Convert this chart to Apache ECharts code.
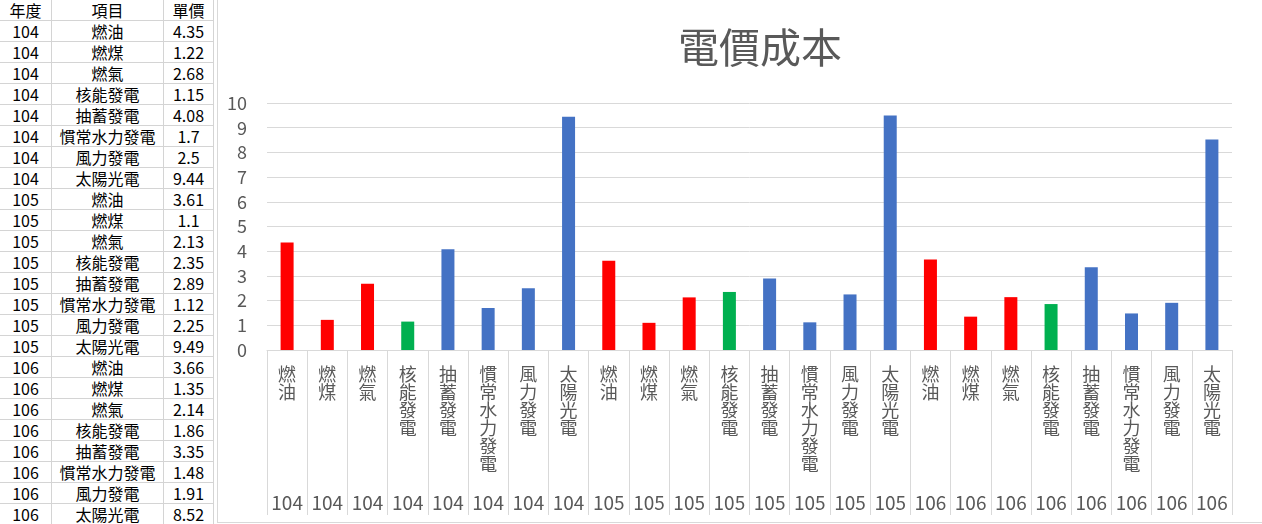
<!DOCTYPE html>
<html>
<head>
<meta charset="utf-8">
<script src="https://cdn.jsdelivr.net/npm/echarts@6/dist/echarts.min.js"></script>
<style>
  html, body { margin:0; padding:0; background:#fff; width:1262px; height:524px; overflow:hidden; }
  #tbl { position:absolute; left:0; top:0; border-collapse:collapse; font-family:"Noto Sans CJK TC","Noto Sans",sans-serif; font-size:16px; color:#000; }
  #tbl td { height:20px; padding:0; border-right:1px solid #D4D4D4; border-bottom:1px solid #D4D4D4; text-align:center; line-height:20px; white-space:nowrap; overflow:hidden; }
  #frame { position:absolute; left:217px; top:-1px; width:1050px; height:523px; border-left:1px solid #D9D9D9; border-bottom:1px solid #D9D9D9; }
  #chart { position:absolute; left:218px; top:0; width:1044px; height:522px; }
</style>
</head>
<body>
<table id="tbl"></table>
<div id="frame"></div>
<div id="chart"></div>
<script>
// ---- data ----
const years = ['104','104','104','104','104','104','104','104',
               '105','105','105','105','105','105','105','105',
               '106','106','106','106','106','106','106','106'];
const itemNames = ['燃油','燃煤','燃氣','核能發電','抽蓄發電','慣常水力發電','風力發電','太陽光電'];
const items = itemNames.concat(itemNames, itemNames);
const values104 = [4.35, 1.22, 2.68, 1.15, 4.08, 1.7, 2.5, 9.44];
const values105 = [3.61, 1.1, 2.13, 2.35, 2.89, 1.12, 2.25, 9.49];
const values106 = [3.66, 1.35, 2.14, 1.86, 3.35, 1.48, 1.91, 8.52];
const values = values104.concat(values105, values106);
const headers = ['年度','項目','單價'];
const yTicks = [0,1,2,3,4,5,6,7,8,9,10];
const titleText = '電價成本';

// ---- table ----
const tbl = document.getElementById('tbl');
const colW = [51, 111, 49];
function addRow(cells) {
  const tr = document.createElement('tr');
  cells.forEach((c, i) => {
    const td = document.createElement('td');
    td.textContent = c;
    td.style.width = colW[i] + 'px';
    td.style.maxWidth = colW[i] + 'px';
    td.style.minWidth = colW[i] + 'px';
    tr.appendChild(td);
  });
  tbl.appendChild(tr);
}
addRow(headers);
items.forEach((it, i) => addRow([years[i], it, String(values[i])]));

// ---- chart ----
const colorOf = name => (name === '燃油' || name === '燃煤' || name === '燃氣') ? '#FF0000'
                      : (name === '核能發電' ? '#00B050' : '#4472C4');
const FONT = '"Noto Sans CJK TC","Noto Sans",sans-serif';
const chart = echarts.init(document.getElementById('chart'), null, { renderer: 'canvas' });
chart.setOption({
  animation: false,
  title: {
    text: titleText, left: 537, top: 22, textAlign: 'center',
    textStyle: { fontSize: 41, fontWeight: 'normal', color: '#595959', fontFamily: FONT }
  },
  grid: { left: 49, top: 103, width: 965, height: 247, containLabel: false },
  xAxis: [
    {
      type: 'category', data: items, position: 'bottom',
      axisLine: { show: true, lineStyle: { color: '#D9D9D9', width: 1 } },
      axisTick: { show: true, interval: 0, length: 165, lineStyle: { color: '#D9D9D9', width: 1 } },
      axisLabel: {
        interval: 0, margin: 15, color: '#595959', fontSize: 18, lineHeight: 18, fontFamily: FONT,
        verticalAlign: 'top',
        formatter: v => v.split('').join('\n')
      },
      splitLine: { show: false }
    },
    {
      type: 'category', data: years, position: 'bottom',
      axisLine: { show: false }, axisTick: { show: false },
      axisLabel: { interval: 0, margin: 143, color: '#595959', fontSize: 19, fontFamily: FONT }
    }
  ],
  yAxis: {
    type: 'value', min: yTicks[0], max: yTicks[yTicks.length - 1], interval: 1,
    axisLine: { show: false }, axisTick: { show: false },
    axisLabel: { margin: 20, color: '#595959', fontSize: 18, fontFamily: FONT },
    splitLine: { show: true, lineStyle: { color: '#D9D9D9', width: 1 } }
  },
  series: [{
    type: 'bar', xAxisIndex: 0, barWidth: 13,
    data: values.map((v, i) => ({ value: v, itemStyle: { color: colorOf(items[i]) } }))
  }]
});
</script>
</body>
</html>
